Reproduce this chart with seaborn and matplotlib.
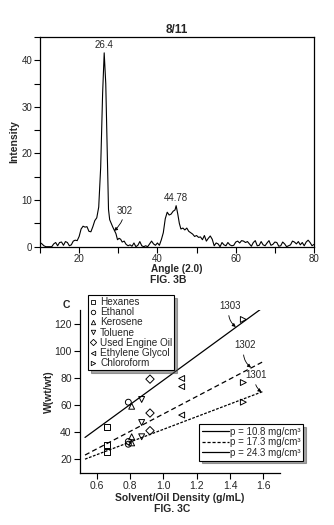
import numpy as np
import pandas as pd
import matplotlib
matplotlib.use("Agg")
import matplotlib.pyplot as plt
from matplotlib.lines import Line2D
from matplotlib.ticker import MultipleLocator
import seaborn as sns

# ---- FIG. 3B: diffraction pattern ----
angle = [10.0, 10.5, 11.0, 11.5, 12.0, 12.5, 13.0, 13.5, 14.0, 14.5, 15.0, 15.5, 16.0, 16.5,
         17.0, 17.5, 18.0, 18.5, 19.0, 19.5, 20.0, 20.5, 21.0, 21.5, 22.0, 22.5, 23.0, 23.5,
         24.0, 24.5, 25.0, 25.5, 26.0, 26.4, 26.8, 27.2, 27.5, 27.8, 28.2, 28.6, 29.0, 29.4,
         29.8, 30.2, 30.6, 31.0, 31.5, 32.0, 32.5, 33.0, 33.5, 34.0, 34.5, 35.0, 35.5, 36.0,
         36.5, 37.0, 37.5, 38.0, 38.5, 39.0, 39.5, 40.0, 40.5, 41.0, 41.5, 42.0, 42.5, 43.0,
         43.5, 44.0, 44.5, 44.78, 45.2, 45.6, 46.0, 46.5, 47.0, 47.5, 48.0, 48.5, 49.0, 49.5,
         50.0, 50.5, 51.0, 51.5, 52.0, 52.5, 53.0, 53.5, 54.0, 54.5, 55.0, 55.5, 56.0, 56.5,
         57.0, 57.5, 58.0, 58.5, 59.0, 59.5, 60.0, 60.5, 61.0, 61.5, 62.0, 62.5, 63.0, 63.5,
         64.0, 64.5, 65.0, 65.5, 66.0, 66.5, 67.0, 67.5, 68.0, 68.5, 69.0, 69.5, 70.0, 70.5,
         71.0, 71.5, 72.0, 72.5, 73.0, 73.5, 74.0, 74.5, 75.0, 75.5, 76.0, 76.5, 77.0, 77.5,
         78.0, 78.5, 79.0, 79.5, 80.0]
intensity = [0.9, 0.6, 0.2, 0.0, 0.0, 0.0, 0.0, 0.6, 0.9, 0.2, 0.9, 1.0, 0.3, 1.1,
             0.9, 0.2, 0.4, 1.2, 1.4, 1.3, 2.2, 3.8, 4.4, 4.2, 4.3, 3.3, 3.2, 4.3,
             5.6, 6.2, 8.5, 17.0, 33.0, 41.6, 35.0, 20.0, 8.0, 5.8, 5.0, 4.2, 3.5, 2.8,
             1.5, 1.8, 1.6, 1.0, 1.2, 0.5, 0.2, 0.4, 0.1, 0.8, 0.0, 0.3, 1.1, 0.2,
             0.0, 0.2, 0.0, 0.6, 1.2, 0.6, 0.3, 0.8, 0.3, 1.5, 3.0, 6.0, 7.4, 6.8,
             7.0, 7.6, 7.9, 8.8, 7.0, 5.0, 3.8, 4.0, 3.6, 4.0, 3.3, 3.0, 2.7, 2.2,
             2.4, 2.0, 2.1, 1.5, 2.4, 1.2, 1.8, 2.3, 1.6, 0.2, 0.8, 0.6, 0.0, 0.9,
             0.4, 0.2, 0.9, 0.4, 0.2, 0.3, 1.0, 1.2, 0.8, 1.3, 1.2, 0.9, 1.1, 0.6,
             0.1, 0.9, 1.3, 0.2, 0.3, 1.1, 0.4, 0.2, 0.8, 1.3, 0.3, 0.5, 1.0, 0.9,
             0.1, 0.2, 1.0, 0.6, 0.0, 0.2, 0.4, 1.2, 1.0, 0.6, 1.1, 0.4, 0.9, 0.2,
             1.0, 1.4, 0.9, 0.2, 0.5]

# ---- FIG. 3C: absorption vs. solvent density ----
solvents = ["Hexanes", "Ethanol", "Kerosene", "Toluene", "Used Engine Oil",
            "Ethylene Glycol", "Chloroform"]
markers = ["s", "o", "^", "v", "D", "<", ">"]
density = [0.66, 0.79, 0.81, 0.87, 0.92, 1.11, 1.48]
w_low = [44, 62, 59, 64, 79, 79.5, 123]      # p = 10.8 mg/cm3
w_mid = [30.5, 33, 36.5, 47, 54, 73.5, 76.5]  # p = 17.3 mg/cm3
w_high = [25.5, 31, 32, 36.5, 41, 52.5, 62]   # p = 24.3 mg/cm3
fit_x = [0.53, 1.60]
fit_low = [36, 132]
fit_mid = [23, 92]
fit_high = [20, 70]
fit_labels = ["p = 10.8 mg/cm³", "p = 17.3 mg/cm³", "p = 24.3 mg/cm³"]
ref_labels = ["1303", "1302", "1301"]

sns.set_style("ticks")
plt.rcParams["font.family"] = ["Liberation Sans", "DejaVu Sans"]
plt.rcParams["axes.linewidth"] = 0.9

fig = plt.figure(figsize=(3.34, 5.25), dpi=100)

# ----- top panel -----
ax1 = fig.add_axes([40 / 334, 1 - 246.7 / 525, 274 / 334, 209.7 / 525])
spec = pd.DataFrame({"angle": angle, "intensity": intensity})
sns.lineplot(data=spec, x="angle", y="intensity", ax=ax1, color="black",
             linewidth=0.8, sort=False)
ax1.set_xlim(10, 80)
ax1.set_ylim(0, 45)
ax1.xaxis.set_major_locator(MultipleLocator(20))
ax1.xaxis.set_minor_locator(MultipleLocator(10))
ax1.yaxis.set_major_locator(MultipleLocator(10))
ax1.yaxis.set_minor_locator(MultipleLocator(5))
ax1.tick_params(which="both", direction="out", length=4, width=0.8,
                labelsize=7, pad=1.5, color="black")
for s in ax1.spines.values():
    s.set_color("black")
ax1.set_xlabel("")
ax1.set_ylabel("Intensity", fontsize=7.5, fontweight="bold", labelpad=1.5)
ax1.set_title("8/11", fontsize=8.5, fontweight="bold", pad=3)
ax1.text(26.4, 42.2, "26.4", ha="center", va="bottom", fontsize=7)
ax1.text(44.78, 9.3, "44.78", ha="center", va="bottom", fontsize=7)
ax1.annotate("302", xy=(28.9, 3.4), xytext=(29.5, 6.5), fontsize=7,
             ha="left", va="bottom",
             arrowprops=dict(arrowstyle="-|>", color="black", lw=0.6,
                             mutation_scale=5,
                             connectionstyle="arc3,rad=-0.2",
                             shrinkA=0, shrinkB=0))
fig.text(177 / 334, 1 - 269.5 / 525, "Angle (2.0)", ha="center", va="center",
         fontsize=7.2, fontweight="bold")
fig.text(168 / 334, 1 - 280 / 525, "FIG. 3B", ha="center", va="center",
         fontsize=7.5, fontweight="bold")

# ----- bottom panel -----
ax2 = fig.add_axes([80 / 334, 1 - 472.7 / 525, 200 / 334, 162.7 / 525])
pts = pd.DataFrame({
    "density": density * 3,
    "w": w_low + w_mid + w_high,
    "solvent": solvents * 3,
})
sns.scatterplot(data=pts, x="density", y="w", style="solvent",
                markers=dict(zip(solvents, markers)), ax=ax2,
                facecolor="none", edgecolor="black", color="black",
                s=18, linewidth=0.7, legend=False)
ax2.plot(fit_x, fit_low, color="black", lw=0.9, ls="-")
ax2.plot(fit_x, fit_mid, color="black", lw=0.9, ls=(0, (4, 2.5)))
ax2.plot(fit_x, fit_high, color="black", lw=0.9, ls=(0, (2.2, 1.2)))
ax2.set_xlim(0.5, 1.7)
ax2.set_ylim(10, 130)
ax2.xaxis.set_major_locator(MultipleLocator(0.2))
ax2.yaxis.set_major_locator(MultipleLocator(20))
sns.despine(ax=ax2)
ax2.spines["left"].set_color("black")
ax2.spines["bottom"].set_color("black")
ax2.tick_params(direction="out", length=4, width=0.8, labelsize=7.5, pad=2,
                color="black")
ax2.set_xlabel("Solvent/Oil Density (g/mL)", fontsize=7.5, fontweight="bold",
               labelpad=1.5)
ax2.set_ylabel("W(wt/wt)", fontsize=7.5, fontweight="bold", labelpad=0)
ax2.text(-0.07, 1.03, "C", transform=ax2.transAxes, fontsize=7.5,
         fontweight="bold", ha="center", va="center")

arrow_kw = dict(arrowstyle="-|>", color="black", lw=0.6, mutation_scale=5,
                shrinkA=1, shrinkB=0)
ax2.annotate(ref_labels[0], xy=(1.435, 117.5), xytext=(1.40, 133),
             fontsize=7, ha="center", va="center", annotation_clip=False,
             arrowprops=dict(connectionstyle="arc3,rad=0.35", **arrow_kw))
ax2.annotate(ref_labels[1], xy=(1.526, 87.5), xytext=(1.49, 104),
             fontsize=7, ha="center", va="center",
             arrowprops=dict(connectionstyle="arc3,rad=0.35", **arrow_kw))
ax2.annotate(ref_labels[2], xy=(1.589, 69.5), xytext=(1.555, 82),
             fontsize=7, ha="center", va="center",
             arrowprops=dict(connectionstyle="arc3,rad=0.35", **arrow_kw))

mk_handles = [Line2D([], [], ls="none", marker=m, markersize=3.2,
                     markerfacecolor="none", markeredgecolor="black",
                     markeredgewidth=0.6) for m in markers]
leg1 = ax2.legend(mk_handles, solvents, loc="upper left",
                  bbox_to_anchor=(0.041, 1.092), borderaxespad=0,
                  fontsize=7.2, frameon=True, fancybox=False, shadow=True,
                  edgecolor="black", handlelength=0.6, handletextpad=0.4,
                  labelspacing=0.02, borderpad=0.2)
leg1.get_frame().set_linewidth(0.8)
ax2.add_artist(leg1)

ln_handles = [Line2D([], [], color="black", lw=0.9, ls="-"),
              Line2D([], [], color="black", lw=0.9, ls=(0, (2.5, 1.5))),
              Line2D([], [], color="black", lw=0.9, ls="-")]
leg2 = ax2.legend(ln_handles, fit_labels, loc="upper left",
                  bbox_to_anchor=(0.597, 0.30), borderaxespad=0,
                  fontsize=7.0, frameon=True, fancybox=False, shadow=True,
                  edgecolor="black", handlelength=2.7, handletextpad=0.1,
                  labelspacing=0.05, borderpad=0.3)
leg2.get_frame().set_linewidth(0.8)

fig.text(172 / 334, 1 - 509.5 / 525, "FIG. 3C", ha="center", va="center",
         fontsize=7.5, fontweight="bold")

fig.savefig("out.png", dpi=100)
